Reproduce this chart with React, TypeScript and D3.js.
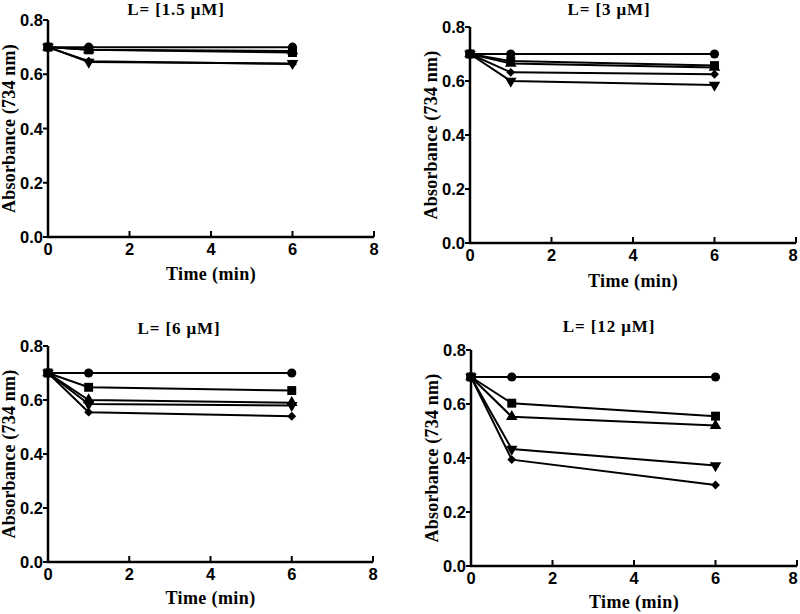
import React from "react";
import * as d3 from "d3";

const times = [0, 1, 6];
const panelTitles = ["L= [1.5 \u03bcM]", "L= [3 \u03bcM]", "L= [6 \u03bcM]", "L= [12 \u03bcM]"];
const xTicks = [0, 2, 4, 6, 8];
const yTicks = [0.0, 0.2, 0.4, 0.6, 0.8];

// values per panel (1.5, 3, 6, 12 µM), at times 0, 1, 6
const circleSeries = [
  [0.70, 0.70, 0.70],
  [0.70, 0.70, 0.70],
  [0.70, 0.70, 0.70],
  [0.70, 0.70, 0.70],
];
const triangleSeries = [
  [0.70, 0.69, 0.686],
  [0.70, 0.665, 0.65],
  [0.70, 0.60, 0.59],
  [0.70, 0.553, 0.52],
];
const invTriangleSeries = [
  [0.70, 0.645, 0.64],
  [0.70, 0.60, 0.585],
  [0.70, 0.585, 0.58],
  [0.70, 0.433, 0.372],
];
const diamondSeries = [
  [0.70, 0.648, 0.638],
  [0.70, 0.632, 0.625],
  [0.70, 0.555, 0.54],
  [0.70, 0.394, 0.30],
];
const squareSeries = [
  [0.70, 0.69, 0.68],
  [0.70, 0.674, 0.657],
  [0.70, 0.647, 0.635],
  [0.70, 0.603, 0.555],
];

const seriesList = [
  { values: circleSeries, shape: "circle" },
  { values: triangleSeries, shape: "triangle" },
  { values: invTriangleSeries, shape: "invTriangle" },
  { values: diamondSeries, shape: "diamond" },
  { values: squareSeries, shape: "square" },
];

const layouts = [
  { x0: 48, x1: 374, yTop: 20, yBot: 237, titleX: 176, titleY: 15, xLabY: 280 },
  { x0: 470, x1: 796, yTop: 27, yBot: 243, titleX: 609, titleY: 15, xLabY: 287 },
  { x0: 48, x1: 373, yTop: 346, yBot: 562, titleX: 179, titleY: 334, xLabY: 604 },
  { x0: 471, x1: 797, yTop: 350, yBot: 566, titleX: 609, titleY: 332, xLabY: 608 },
];

const serif = "'Liberation Serif', 'Times New Roman', serif";
const sans = "'Liberation Sans', Arial, sans-serif";

function markerPath(shape: string): { d: string; rot: number } {
  const sym = d3.symbol();
  if (shape === "circle") return { d: sym.type(d3.symbolCircle).size(66)()!, rot: 0 };
  if (shape === "square") return { d: sym.type(d3.symbolSquare).size(80)()!, rot: 0 };
  if (shape === "triangle") return { d: sym.type(d3.symbolTriangle).size(58)()!, rot: 0 };
  if (shape === "invTriangle") return { d: sym.type(d3.symbolTriangle).size(58)()!, rot: 180 };
  return { d: sym.type(d3.symbolDiamond2).size(50)()!, rot: 0 };
}

function Panel({ idx }: { idx: number }) {
  const L = layouts[idx];
  const x = d3.scaleLinear().domain([0, 8]).range([L.x0, L.x1]);
  const y = d3.scaleLinear().domain([0, 0.8]).range([L.yBot, L.yTop]);
  const line = d3
    .line<[number, number]>()
    .x((d) => x(d[0]))
    .y((d) => y(d[1]));
  return (
    <g>
      <text x={L.titleX} y={L.titleY} textAnchor="middle" fontFamily={serif} fontWeight="bold" fontSize={17} letterSpacing={0.9}>
        {panelTitles[idx]}
      </text>
      {/* axes */}
      <line x1={L.x0} x2={L.x0} y1={y(0.8)} y2={y(0)} stroke="#000" strokeWidth={2.5} />
      <line x1={L.x0 - 1} x2={L.x1} y1={y(0)} y2={y(0)} stroke="#000" strokeWidth={2.5} />
      {yTicks.map((t) => (
        <g key={"y" + t}>
          <line x1={L.x0 - 5} x2={L.x0} y1={y(t)} y2={y(t)} stroke="#000" strokeWidth={2} />
          <text x={L.x0 - 5} y={y(t) + 6} textAnchor="end" fontFamily={sans} fontWeight="bold" fontSize={16.5}>
            {t.toFixed(1)}
          </text>
        </g>
      ))}
      {xTicks.map((t) => (
        <g key={"x" + t}>
          {t > 0 && <line x1={x(t)} x2={x(t)} y1={y(0)} y2={y(0) - 6} stroke="#000" strokeWidth={2} />}
          <text x={Math.min(x(t), 793)} y={y(0) + 18} textAnchor="middle" fontFamily={sans} fontWeight="bold" fontSize={16.5}>
            {t}
          </text>
        </g>
      ))}
      <text x={(L.x0 + L.x1) / 2} y={L.xLabY} textAnchor="middle" fontFamily={serif} fontWeight="bold" fontSize={18} letterSpacing={0.4}>
        Time (min)
      </text>
      <text
        transform={`translate(${L.x0 - 33},${(L.yTop + L.yBot) / 2}) rotate(-90)`}
        textAnchor="middle"
        fontFamily={serif}
        fontWeight="bold"
        fontSize={18}
        letterSpacing={0.2}
      >
        Absorbance (734 nm)
      </text>
      {seriesList.map((s, si) => {
        const pts: [number, number][] = times.map((t, i) => [t, s.values[idx][i]]);
        return <path key={"l" + si} d={line(pts)!} fill="none" stroke="#000" strokeWidth={2} />;
      })}
      {seriesList.map((s, si) => {
        const m = markerPath(s.shape);
        return (
          <g key={"m" + si}>
            {times.map((t, i) => (
              <path
                key={i}
                d={m.d}
                transform={`translate(${x(t)},${y(s.values[idx][i])}) rotate(${m.rot})`}
                fill="#000"
              />
            ))}
          </g>
        );
      })}
    </g>
  );
}

export default function App() {
  return (
    <svg width={800} height={614} style={{ position: "absolute", left: 0, top: 0, background: "#fff" }}>
      <rect width={800} height={614} fill="#fff" />
      {[0, 1, 2, 3].map((i) => (
        <Panel key={i} idx={i} />
      ))}
    </svg>
  );
}
